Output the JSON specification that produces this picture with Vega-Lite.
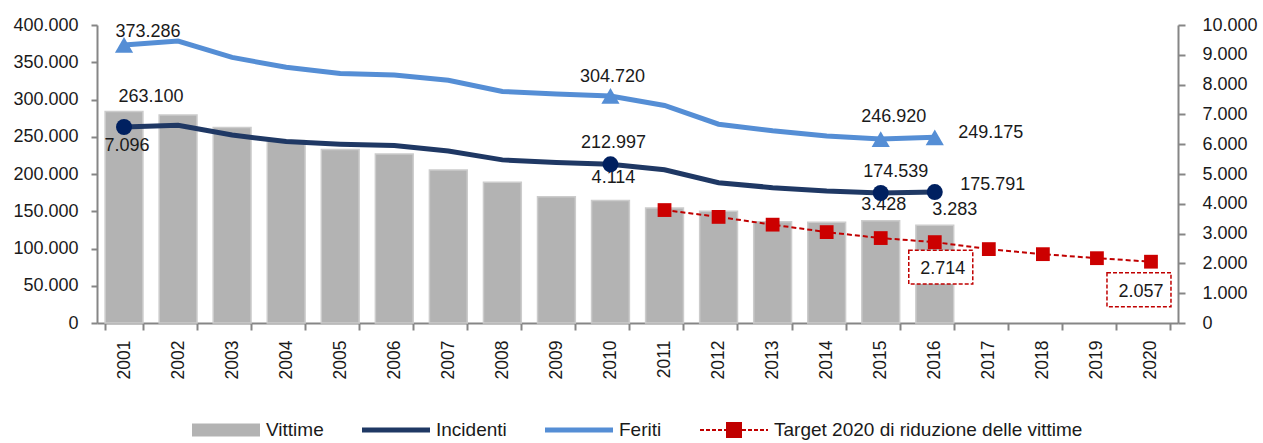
{
  "$schema": "https://vega.github.io/schema/vega-lite/v6.json",
  "width": 1081,
  "height": 298,
  "autosize": "none",
  "padding": {"left": 97, "top": 25, "right": 85, "bottom": 120},
  "background": "white",
  "config": {
    "locale": {"number": {"decimal": ",", "thousands": ".", "grouping": [3], "currency": ["€", ""]}},
    "font": "Liberation Sans",
    "view": {"stroke": null},
    "axis": {"grid": false, "domainColor": "#868686", "domainWidth": 2, "tickColor": "#868686", "tickWidth": 2, "labelColor": "#1a1a1a", "labelFont": "Liberation Sans", "labelFontSize": 18, "labelOverlap": false},
    "legend": {"layout": {"bottom": {"anchor": "middle"}}}
  },
  "data": {"values": [
    {"year": "2001", "vittime": 7096, "incidenti": 263100, "feriti": 373286, "target": null},
    {"year": "2002", "vittime": 6980, "incidenti": 265402, "feriti": 378492, "target": null},
    {"year": "2003", "vittime": 6563, "incidenti": 252271, "feriti": 356475, "target": null},
    {"year": "2004", "vittime": 6122, "incidenti": 243490, "feriti": 343179, "target": null},
    {"year": "2005", "vittime": 5818, "incidenti": 240011, "feriti": 334858, "target": null},
    {"year": "2006", "vittime": 5669, "incidenti": 238124, "feriti": 332955, "target": null},
    {"year": "2007", "vittime": 5131, "incidenti": 230871, "feriti": 325850, "target": null},
    {"year": "2008", "vittime": 4725, "incidenti": 218963, "feriti": 310745, "target": null},
    {"year": "2009", "vittime": 4237, "incidenti": 215405, "feriti": 307258, "target": null},
    {"year": "2010", "vittime": 4114, "incidenti": 212997, "feriti": 304720, "target": null},
    {"year": "2011", "vittime": 3860, "incidenti": 205638, "feriti": 292019, "target": 3790},
    {"year": "2012", "vittime": 3753, "incidenti": 188228, "feriti": 266864, "target": 3560},
    {"year": "2013", "vittime": 3401, "incidenti": 181660, "feriti": 258093, "target": 3300},
    {"year": "2014", "vittime": 3381, "incidenti": 177031, "feriti": 251147, "target": 3050},
    {"year": "2015", "vittime": 3428, "incidenti": 174539, "feriti": 246920, "target": 2850},
    {"year": "2016", "vittime": 3283, "incidenti": 175791, "feriti": 249175, "target": 2714},
    {"year": "2017", "vittime": null, "incidenti": null, "feriti": null, "target": 2480},
    {"year": "2018", "vittime": null, "incidenti": null, "feriti": null, "target": 2310},
    {"year": "2019", "vittime": null, "incidenti": null, "feriti": null, "target": 2175},
    {"year": "2020", "vittime": null, "incidenti": null, "feriti": null, "target": 2057}
  ]},
  "encoding": {
    "x": {"field": "year", "type": "ordinal", "title": null,
      "scale": {"paddingInner": 0.3, "paddingOuter": 0.15},
      "axis": {"labelAngle": -90, "tickBand": "extent", "tickSize": 7, "labelPadding": 10, "labelFontSize": 17.5}}
  },
  "layer": [
    {
      "layer": [
        {
          "transform": [{"filter": "datum.vittime != null"}],
          "mark": {"type": "bar", "stroke": "#cccccc", "strokeWidth": 1.5},
          "encoding": {
            "y": {"field": "vittime", "type": "quantitative", "title": null,
              "scale": {"domain": [0, 10000], "nice": false},
              "axis": {"orient": "right", "values": [0, 1000, 2000, 3000, 4000, 5000, 6000, 7000, 8000, 9000, 10000], "format": ",d", "tickSize": 7, "labelPadding": 17, "labelOverlap": false}},
            "color": {"datum": "Vittime", "type": "nominal",
              "scale": {"domain": ["Vittime", "Incidenti", "Feriti", "Target 2020 di riduzione delle vittime"], "range": ["#b3b3b3", "#1f3864", "#558ed5", "#c00000"]},
              "legend": {"orient": "bottom", "direction": "horizontal", "title": null, "offset": 41,
                "labelFontSize": 19, "labelFont": "Liberation Sans", "labelColor": "#1a1a1a", "labelLimit": 600,
                "symbolSize": 400, "symbolType": "square", "symbolStrokeWidth": 0, "symbolStrokeColor": "transparent",
                "symbolOffset": 24, "labelOffset": 30, "columnPadding": 38,
                "encoding": {"symbols": {
                  "shape": {"value": {"expr": "datum.index===0 ? 'M-3.4,-0.65H3.4V0.65H-3.4Z' : datum.index===3 ? 'M-3.4,-0.1h0.4v0.2h-0.4ZM-2.8,-0.1h0.4v0.2h-0.4ZM-2.2,-0.1h0.4v0.2h-0.4ZM-1.6,-0.1h0.4v0.2h-0.4ZM-1,-0.1h0.4v0.2h-0.4ZM0.8,-0.1h0.4v0.2h-0.4ZM1.4,-0.1h0.4v0.2h-0.4ZM2,-0.1h0.4v0.2h-0.4ZM2.6,-0.1h0.4v0.2h-0.4ZM3.2,-0.1h0.2v0.2h-0.2ZM-0.8,-0.8H0.8V0.8H-0.8Z' : 'M-3.4,-0.25H3.4V0.25H-3.4Z'"}},
                  "fill": {"value": {"expr": "datum.index===0 ? '#b3b3b3' : datum.index===1 ? '#1f3864' : datum.index===2 ? '#558ed5' : '#c00000'"}},
                  "opacity": {"value": 1}
                }}}}
          }
        },
        {
          "transform": [{"filter": "datum.target != null"}],
          "mark": {"type": "line", "strokeDash": [5, 3], "strokeWidth": 2},
          "encoding": {
            "y": {"field": "target", "type": "quantitative", "title": null, "axis": {"orient": "right", "values": [0, 1000, 2000, 3000, 4000, 5000, 6000, 7000, 8000, 9000, 10000], "format": ",d", "tickSize": 7, "labelPadding": 17, "labelOverlap": false}},
            "color": {"datum": "Target 2020 di riduzione delle vittime", "type": "nominal"}
          }
        },
        {
          "transform": [{"filter": "datum.target != null"}],
          "mark": {"type": "point", "shape": "square", "filled": true, "fill": "#cc0000", "opacity": 1, "size": 190},
          "encoding": {"y": {"field": "target", "type": "quantitative", "title": null, "axis": {"orient": "right", "values": [0, 1000, 2000, 3000, 4000, 5000, 6000, 7000, 8000, 9000, 10000], "format": ",d", "tickSize": 7, "labelPadding": 17, "labelOverlap": false}}}
        },
        {
          "transform": [{"filter": "datum.year == '2001'"}],
          "mark": {"type": "text", "dx": 3, "dy": 34, "fontSize": 18, "fill": "#1a1a1a"},
          "encoding": {"y": {"field": "vittime", "type": "quantitative", "title": null, "axis": {"orient": "right", "values": [0, 1000, 2000, 3000, 4000, 5000, 6000, 7000, 8000, 9000, 10000], "format": ",d", "tickSize": 7, "labelPadding": 17, "labelOverlap": false}}, "text": {"field": "vittime", "type": "quantitative", "format": ",d"}}
        },
        {
          "transform": [{"filter": "datum.year == '2010'"}],
          "mark": {"type": "text", "dx": 3, "dy": -22, "fontSize": 18, "fill": "#1a1a1a"},
          "encoding": {"y": {"field": "vittime", "type": "quantitative", "title": null, "axis": {"orient": "right", "values": [0, 1000, 2000, 3000, 4000, 5000, 6000, 7000, 8000, 9000, 10000], "format": ",d", "tickSize": 7, "labelPadding": 17, "labelOverlap": false}}, "text": {"field": "vittime", "type": "quantitative", "format": ",d"}}
        },
        {
          "transform": [{"filter": "datum.year == '2015'"}],
          "mark": {"type": "text", "dx": 3, "dy": -16, "fontSize": 18, "fill": "#1a1a1a"},
          "encoding": {"y": {"field": "vittime", "type": "quantitative", "title": null, "axis": {"orient": "right", "values": [0, 1000, 2000, 3000, 4000, 5000, 6000, 7000, 8000, 9000, 10000], "format": ",d", "tickSize": 7, "labelPadding": 17, "labelOverlap": false}}, "text": {"field": "vittime", "type": "quantitative", "format": ",d"}}
        },
        {
          "transform": [{"filter": "datum.year == '2016'"}],
          "mark": {"type": "text", "dx": 20, "dy": -15, "fontSize": 18, "fill": "#1a1a1a"},
          "encoding": {"y": {"field": "vittime", "type": "quantitative", "title": null, "axis": {"orient": "right", "values": [0, 1000, 2000, 3000, 4000, 5000, 6000, 7000, 8000, 9000, 10000], "format": ",d", "tickSize": 7, "labelPadding": 17, "labelOverlap": false}}, "text": {"field": "vittime", "type": "quantitative", "format": ",d"}}
        },
        {
          "transform": [{"filter": "datum.year == '2016'"}],
          "mark": {"type": "point", "shape": "M-1,-0.53H1V0.53H-1Z", "size": 4096, "filled": false, "fill": "white", "fillOpacity": 1, "stroke": "#c00000", "strokeWidth": 1.5, "strokeDash": [4, 2], "opacity": 1, "xOffset": 6, "yOffset": 25},
          "encoding": {"y": {"field": "target", "type": "quantitative", "title": null, "axis": {"orient": "right", "values": [0, 1000, 2000, 3000, 4000, 5000, 6000, 7000, 8000, 9000, 10000], "format": ",d", "tickSize": 7, "labelPadding": 17, "labelOverlap": false}}}
        },
        {
          "transform": [{"filter": "datum.year == '2020'"}],
          "mark": {"type": "point", "shape": "M-1,-0.53H1V0.53H-1Z", "size": 4096, "filled": false, "fill": "white", "fillOpacity": 1, "stroke": "#c00000", "strokeWidth": 1.5, "strokeDash": [4, 2], "opacity": 1, "xOffset": -12, "yOffset": 28},
          "encoding": {"y": {"field": "target", "type": "quantitative", "title": null, "axis": {"orient": "right", "values": [0, 1000, 2000, 3000, 4000, 5000, 6000, 7000, 8000, 9000, 10000], "format": ",d", "tickSize": 7, "labelPadding": 17, "labelOverlap": false}}}
        },
        {
          "transform": [{"filter": "datum.year == '2016'"}],
          "mark": {"type": "text", "dx": 8, "dy": 27, "fontSize": 18, "fill": "#1a1a1a"},
          "encoding": {"y": {"field": "target", "type": "quantitative", "title": null, "axis": {"orient": "right", "values": [0, 1000, 2000, 3000, 4000, 5000, 6000, 7000, 8000, 9000, 10000], "format": ",d", "tickSize": 7, "labelPadding": 17, "labelOverlap": false}}, "text": {"field": "target", "type": "quantitative", "format": ",d"}}
        },
        {
          "transform": [{"filter": "datum.year == '2020'"}],
          "mark": {"type": "text", "dx": -10, "dy": 30, "fontSize": 18, "fill": "#1a1a1a"},
          "encoding": {"y": {"field": "target", "type": "quantitative", "title": null, "axis": {"orient": "right", "values": [0, 1000, 2000, 3000, 4000, 5000, 6000, 7000, 8000, 9000, 10000], "format": ",d", "tickSize": 7, "labelPadding": 17, "labelOverlap": false}}, "text": {"field": "target", "type": "quantitative", "format": ",d"}}
        }
      ]
    },
    {
      "layer": [
        {
          "transform": [{"filter": "datum.incidenti != null"}],
          "mark": {"type": "line", "strokeWidth": 5},
          "encoding": {
            "y": {"field": "incidenti", "type": "quantitative", "title": null,
              "scale": {"domain": [0, 400000], "nice": false},
              "axis": {"orient": "left", "values": [0, 50000, 100000, 150000, 200000, 250000, 300000, 350000, 400000], "format": ",d", "tickSize": 6, "labelPadding": 13, "labelOverlap": false}},
            "color": {"datum": "Incidenti", "type": "nominal"}
          }
        },
        {
          "transform": [{"filter": "datum.feriti != null"}],
          "mark": {"type": "line", "strokeWidth": 5},
          "encoding": {
            "y": {"field": "feriti", "type": "quantitative", "title": null, "axis": {"orient": "left", "values": [0, 50000, 100000, 150000, 200000, 250000, 300000, 350000, 400000], "format": ",d", "tickSize": 6, "labelPadding": 13, "labelOverlap": false}},
            "color": {"datum": "Feriti", "type": "nominal"}
          }
        },
        {
          "transform": [{"filter": "datum.year == '2001' || datum.year == '2010' || datum.year == '2015' || datum.year == '2016'"}],
          "mark": {"type": "point", "shape": "circle", "filled": true, "fill": "#002060", "opacity": 1, "size": 256},
          "encoding": {"y": {"field": "incidenti", "type": "quantitative", "title": null, "axis": {"orient": "left", "values": [0, 50000, 100000, 150000, 200000, 250000, 300000, 350000, 400000], "format": ",d", "tickSize": 6, "labelPadding": 13, "labelOverlap": false}}}
        },
        {
          "transform": [{"filter": "datum.year == '2001' || datum.year == '2010' || datum.year == '2015' || datum.year == '2016'"}],
          "mark": {"type": "point", "shape": "triangle-up", "filled": true, "fill": "#558ed5", "opacity": 1, "size": 330},
          "encoding": {"y": {"field": "feriti", "type": "quantitative", "title": null, "axis": {"orient": "left", "values": [0, 50000, 100000, 150000, 200000, 250000, 300000, 350000, 400000], "format": ",d", "tickSize": 6, "labelPadding": 13, "labelOverlap": false}}}
        },
        {
          "transform": [{"filter": "datum.year == '2001'"}],
          "mark": {"type": "text", "dx": 24, "dy": -13, "fontSize": 18, "fill": "#1a1a1a"},
          "encoding": {"y": {"field": "feriti", "type": "quantitative", "title": null, "axis": {"orient": "left", "values": [0, 50000, 100000, 150000, 200000, 250000, 300000, 350000, 400000], "format": ",d", "tickSize": 6, "labelPadding": 13, "labelOverlap": false}}, "text": {"field": "feriti", "type": "quantitative", "format": ",d"}}
        },
        {
          "transform": [{"filter": "datum.year == '2010'"}],
          "mark": {"type": "text", "dx": 2, "dy": -19, "fontSize": 18, "fill": "#1a1a1a"},
          "encoding": {"y": {"field": "feriti", "type": "quantitative", "title": null, "axis": {"orient": "left", "values": [0, 50000, 100000, 150000, 200000, 250000, 300000, 350000, 400000], "format": ",d", "tickSize": 6, "labelPadding": 13, "labelOverlap": false}}, "text": {"field": "feriti", "type": "quantitative", "format": ",d"}}
        },
        {
          "transform": [{"filter": "datum.year == '2015'"}],
          "mark": {"type": "text", "dx": 13, "dy": -22, "fontSize": 18, "fill": "#1a1a1a"},
          "encoding": {"y": {"field": "feriti", "type": "quantitative", "title": null, "axis": {"orient": "left", "values": [0, 50000, 100000, 150000, 200000, 250000, 300000, 350000, 400000], "format": ",d", "tickSize": 6, "labelPadding": 13, "labelOverlap": false}}, "text": {"field": "feriti", "type": "quantitative", "format": ",d"}}
        },
        {
          "transform": [{"filter": "datum.year == '2016'"}],
          "mark": {"type": "text", "dx": 56, "dy": -4, "fontSize": 18, "fill": "#1a1a1a"},
          "encoding": {"y": {"field": "feriti", "type": "quantitative", "title": null, "axis": {"orient": "left", "values": [0, 50000, 100000, 150000, 200000, 250000, 300000, 350000, 400000], "format": ",d", "tickSize": 6, "labelPadding": 13, "labelOverlap": false}}, "text": {"field": "feriti", "type": "quantitative", "format": ",d"}}
        },
        {
          "transform": [{"filter": "datum.year == '2001'"}],
          "mark": {"type": "text", "dx": 27, "dy": -30, "fontSize": 18, "fill": "#1a1a1a"},
          "encoding": {"y": {"field": "incidenti", "type": "quantitative", "title": null, "axis": {"orient": "left", "values": [0, 50000, 100000, 150000, 200000, 250000, 300000, 350000, 400000], "format": ",d", "tickSize": 6, "labelPadding": 13, "labelOverlap": false}}, "text": {"field": "incidenti", "type": "quantitative", "format": ",d"}}
        },
        {
          "transform": [{"filter": "datum.year == '2010'"}],
          "mark": {"type": "text", "dx": 3, "dy": -21, "fontSize": 18, "fill": "#1a1a1a"},
          "encoding": {"y": {"field": "incidenti", "type": "quantitative", "title": null, "axis": {"orient": "left", "values": [0, 50000, 100000, 150000, 200000, 250000, 300000, 350000, 400000], "format": ",d", "tickSize": 6, "labelPadding": 13, "labelOverlap": false}}, "text": {"field": "incidenti", "type": "quantitative", "format": ",d"}}
        },
        {
          "transform": [{"filter": "datum.year == '2015'"}],
          "mark": {"type": "text", "dx": 15, "dy": -21, "fontSize": 18, "fill": "#1a1a1a"},
          "encoding": {"y": {"field": "incidenti", "type": "quantitative", "title": null, "axis": {"orient": "left", "values": [0, 50000, 100000, 150000, 200000, 250000, 300000, 350000, 400000], "format": ",d", "tickSize": 6, "labelPadding": 13, "labelOverlap": false}}, "text": {"field": "incidenti", "type": "quantitative", "format": ",d"}}
        },
        {
          "transform": [{"filter": "datum.year == '2016'"}],
          "mark": {"type": "text", "dx": 58, "dy": -7, "fontSize": 18, "fill": "#1a1a1a"},
          "encoding": {"y": {"field": "incidenti", "type": "quantitative", "title": null, "axis": {"orient": "left", "values": [0, 50000, 100000, 150000, 200000, 250000, 300000, 350000, 400000], "format": ",d", "tickSize": 6, "labelPadding": 13, "labelOverlap": false}}, "text": {"field": "incidenti", "type": "quantitative", "format": ",d"}}
        }
      ]
    }
  ],
  "resolve": {"scale": {"y": "independent"}}
}
